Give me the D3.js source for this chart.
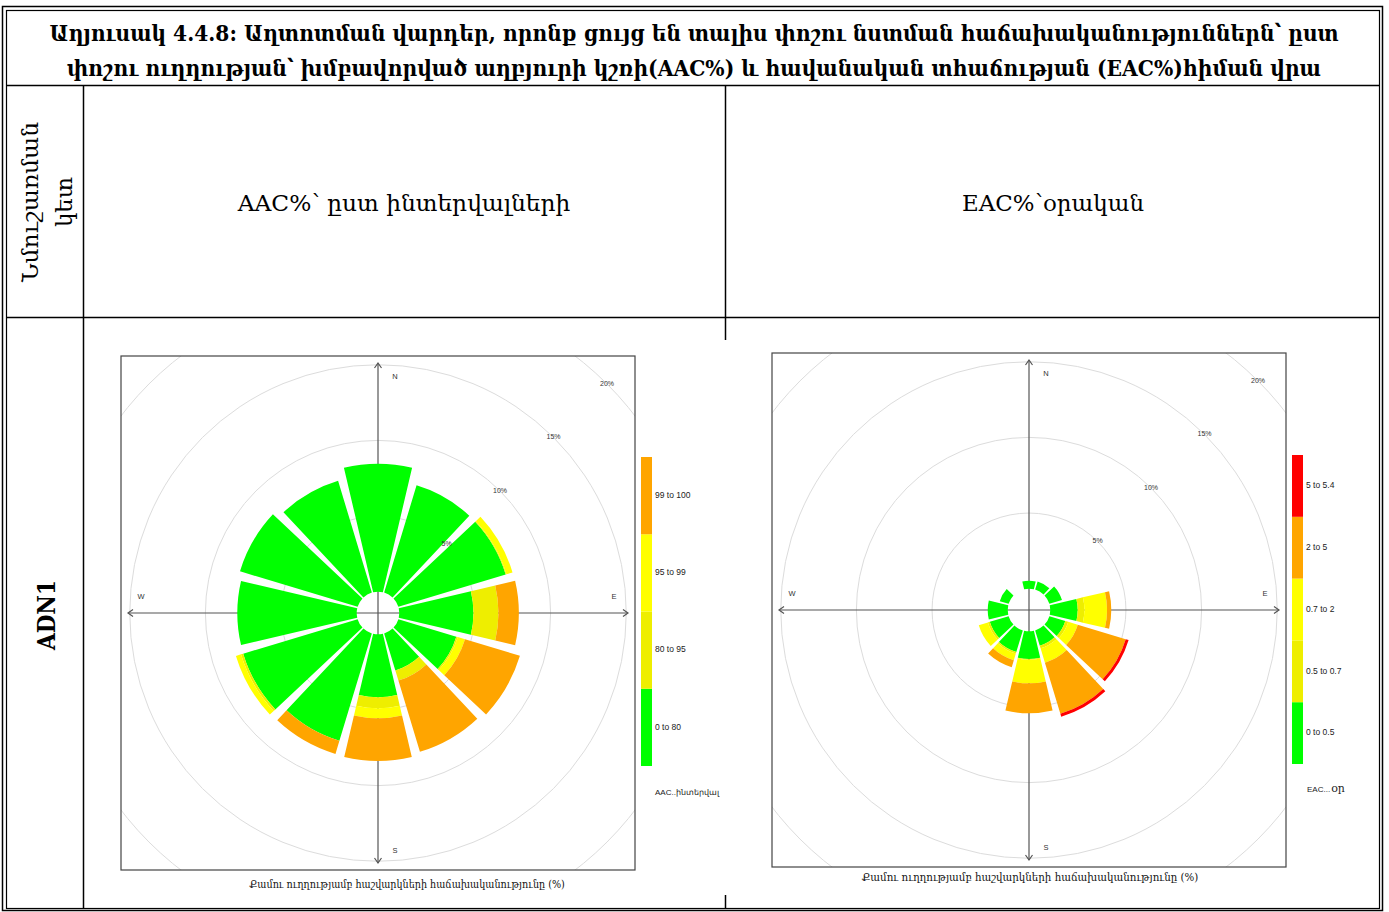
<!DOCTYPE html>
<html><head><meta charset="utf-8">
<script src="https://cdn.jsdelivr.net/npm/d3@7"></script>
<style>body{margin:0;background:#fff}svg{display:block}</style>
</head><body><svg id="c" width="1389" height="912"></svg>
<script>
// ---------- texts ----------
const titleLines = [
  "Աղյուսակ 4.4.8: Աղտոտման վարդեր, որոնք ցույց են տալիս փոշու նստման հաճախականություններն՝ ըստ",
  "փոշու ուղղության՝ խմբավորված աղբյուրի կշռի(AAC%)  և հավանական տհաճության (EAC%)հիման վրա"
];
const headerLabels = ["AAC%՝ ըստ ինտերվալների", "EAC%՝օրական"];
const stationHeader = ["Նմուշառման", "կետ"];
const stationName = "ADN1";
const captionText = "Քամու ուղղությամբ հաշվարկների հաճախականությունը (%)";
const compassLabels = ["N", "E", "S", "W"];
const ringTicks = [5, 10, 15, 20];

// ---------- data ----------
const directions = [0, 30, 60, 90, 120, 150, 180, 210, 240, 270, 300, 330];

const aacBins = ["0 to 80", "80 to 95", "95 to 99", "99 to 100"];
const aacGreen  = [8.46, 7.41, 7.41, 4.90, 4.00, 2.56, 4.16, 7.42, 7.90, 7.89, 8.12, 7.72];
const aacOlive  = [0, 0, 0.05, 1.65, 0.10, 0.70, 0.73, 0, 0.15, 0, 0, 0];
const aacYellow = [0, 0, 0.42, 0, 0.50, 0, 0.66, 0, 0.35, 0, 0, 0];
const aacOrange = [0, 0, 0, 1.35, 3.79, 4.92, 2.82, 0.90, 0, 0, 0, 0];
const aacLegendTitle = "AAC..ինտերվալ";

const eacBins = ["0 to 0.5", "0.5 to 0.7", "0.7 to 2", "2 to 5", "5 to 5.4"];
const eacGreen  = [0.53, 0.56, 0.87, 1.81, 1.10, 1.06, 1.83, 1.50, 1.30, 1.32, 0.61, 0];
const eacOlive  = [0, 0, 0, 0.44, 0.20, 0.18, 0.05, 0.10, 0.13, 0, 0, 0];
const eacYellow = [0, 0, 0, 1.50, 0.66, 0.99, 1.56, 0.46, 0.63, 0, 0, 0];
const eacOrange = [0, 0, 0, 0.28, 3.31, 3.53, 1.98, 0.48, 0, 0, 0, 0];
const eacRed    = [0, 0, 0, 0, 0.20, 0.20, 0, 0, 0, 0, 0, 0];
const eacLegendTitle = ["EAC...", "օր"];

const binColors = ["#00FF00", "#EEEE00", "#FFFF00", "#FFA500", "#FF0000"];

// ---------- drawing ----------
const svg = d3.select("#c");
const serif = "'DejaVu Serif', 'Liberation Serif', serif";
const sans = "'Liberation Sans', Arial, sans-serif";

// place a text centred at (x,y), horizontally scaled to the given width, optional rotation
function fitText(str, x, y, width, attrs, rot) {
  const g = svg.append("g");
  const t = g.append("text").attr("text-anchor", "middle").text(str);
  Object.entries(attrs).forEach(([k, v]) => t.attr(k, v));
  const nat = t.node().getComputedTextLength();
  const sx = width / nat;
  g.attr("transform", `translate(${x},${y})` + (rot ? ` rotate(${rot})` : "") + ` scale(${sx},1)`);
  return t;
}

// table frame
const frame = svg.append("g").attr("fill", "none").attr("stroke", "#000");
frame.append("rect").attr("x", 2.5).attr("y", 6.5).attr("width", 1380).attr("height", 904).attr("stroke-width", 1.5);
frame.append("rect").attr("x", 6.5).attr("y", 10.5).attr("width", 1373).attr("height", 898).attr("stroke-width", 1.2);
frame.append("line").attr("x1", 7).attr("x2", 1379).attr("y1", 85.5).attr("y2", 85.5).attr("stroke-width", 1.5);
frame.append("line").attr("x1", 7).attr("x2", 1379).attr("y1", 317.5).attr("y2", 317.5).attr("stroke-width", 1.5);
frame.append("line").attr("x1", 83.5).attr("x2", 83.5).attr("y1", 85).attr("y2", 908).attr("stroke-width", 1.5);
frame.append("line").attr("x1", 725.5).attr("x2", 725.5).attr("y1", 85).attr("y2", 340).attr("stroke-width", 1.5);
frame.append("line").attr("x1", 725.5).attr("x2", 725.5).attr("y1", 895).attr("y2", 908).attr("stroke-width", 1.5);

// title
const titleW = [1290, 1255];
titleLines.forEach((t, i) => {
  fitText(t, 694, 41 + i * 35, titleW[i],
    {"font-family": serif, "font-weight": "bold", "font-size": 22});
});

// header row
const headerPos = [{x: 404, w: 333}, {x: 1053, w: 182}];
headerLabels.forEach((t, i) => {
  fitText(t, headerPos[i].x, 211, headerPos[i].w, {"font-family": serif, "font-size": 22});
});
const stW = [160, 50];
stationHeader.forEach((t, i) => {
  fitText(t, 38 + i * 34, 202, stW[i], {"font-family": serif, "font-size": 22}, -90);
});
fitText(stationName, 55, 615, 70, {"font-family": serif, "font-weight": "bold", "font-size": 24}, -90);

// radial scale shared by both roses
const rScale = d3.scaleLinear().domain([0, 20]).range([21.3, 323.9]);
const halfSector = 13.2;

function drawRose(opt) {
  const clipId = "clip" + opt.id;
  svg.append("clipPath").attr("id", clipId)
    .append("rect").attr("x", opt.cx - 257).attr("y", opt.cy - 257).attr("width", 514).attr("height", 514);
  const ringG = svg.append("g").attr("clip-path", `url(#${clipId})`)
    .append("g").attr("transform", `translate(${opt.cx},${opt.cy})`);
  ringG.selectAll("circle").data(ringTicks).join("circle")
    .attr("r", d => rScale(d)).attr("fill", "none").attr("stroke", "#dcdcdc").attr("stroke-width", 1);

  // axes
  const ax = svg.append("g").attr("transform", `translate(${opt.cx},${opt.cy})`)
    .attr("stroke", "#555").attr("stroke-width", 1.2).attr("fill", "none");
  const L = 250, ah = 5, aw = 3.5;
  ax.append("line").attr("x1", 0).attr("x2", 0).attr("y1", -L).attr("y2", L);
  ax.append("line").attr("y1", 0).attr("y2", 0).attr("x1", -L).attr("x2", L);
  [[0, -L, 0, 1], [0, L, 0, -1], [-L, 0, 1, 0], [L, 0, -1, 0]].forEach(([x, y, dx, dy]) => {
    const px = dy !== 0 ? aw : 0, py = dx !== 0 ? aw : 0;
    ax.append("polyline").attr("points",
      `${x + dx * ah - px},${y + dy * ah - py} ${x},${y} ${x + dx * ah + px},${y + dy * ah + py}`);
  });

  // bars
  const arc = d3.arc();
  const layers = opt.layers;
  const bars = svg.append("g").attr("transform", `translate(${opt.cx},${opt.cy})`);
  directions.forEach((dir, i) => {
    let cum = 0;
    layers.forEach((layer, k) => {
      const v = layer[i];
      if (v <= 0) return;
      const a0 = (dir - halfSector) * Math.PI / 180, a1 = (dir + halfSector) * Math.PI / 180;
      bars.append("path")
        .attr("d", arc({innerRadius: rScale(cum), outerRadius: rScale(cum + v), startAngle: a0, endAngle: a1}))
        .attr("fill", binColors[k]);
      cum += v;
    });
  });

  // compass labels
  const cpos = {N: [17, -236], E: [236, -16], S: [17, 238], W: [-237, -16]};
  const lg = svg.append("g").attr("transform", `translate(${opt.cx},${opt.cy})`)
    .attr("font-family", sans).attr("font-size", 7.5).attr("fill", "#333")
    .attr("text-anchor", "middle").attr("dominant-baseline", "middle");
  compassLabels.forEach(c => lg.append("text").attr("x", cpos[c][0]).attr("y", cpos[c][1]).text(c));
  ringTicks.forEach(t => {
    const r = rScale(t) / Math.SQRT2;
    lg.append("text").attr("x", r).attr("y", -r).attr("font-size", 7).text(t + "%");
  });

  // panel box
  svg.append("rect").attr("x", opt.cx - 257).attr("y", opt.cy - 257).attr("width", 514).attr("height", 514)
    .attr("fill", "none").attr("stroke", "#444").attr("stroke-width", 1.2);

  // legend
  const n = opt.bins.length;
  const band = d3.scaleBand().domain(d3.range(n).reverse()).range([opt.legTop, opt.legBottom]).padding(0);
  const leg = svg.append("g");
  leg.selectAll("rect").data(d3.range(n)).join("rect")
    .attr("x", opt.legX).attr("y", d => band(d)).attr("width", 11).attr("height", band.bandwidth())
    .attr("fill", d => binColors[d]);
  leg.selectAll("text").data(d3.range(n)).join("text")
    .attr("x", opt.legX + 14).attr("y", d => band(d) + band.bandwidth() / 2)
    .attr("dominant-baseline", "middle").attr("font-family", sans).attr("font-size", 8.5).attr("fill", "#222")
    .text(d => opt.bins[d]);

  // caption
  fitText(captionText, opt.capX, opt.capY, opt.capW,
    {"font-family": serif, "font-size": opt.capSize, "fill": "#111"});
}

drawRose({
  id: "L", cx: 378, cy: 613,
  layers: [aacGreen, aacOlive, aacYellow, aacOrange],
  bins: aacBins, legX: 641, legTop: 457, legBottom: 766,
  capX: 407, capY: 888, capW: 316, capSize: 10.5
});
drawRose({
  id: "R", cx: 1029, cy: 610,
  layers: [eacGreen, eacOlive, eacYellow, eacOrange, eacRed],
  bins: eacBins, legX: 1292, legTop: 455, legBottom: 764,
  capX: 1030, capY: 881, capW: 337, capSize: 11.5
});

// legend titles
svg.append("text").attr("x", 655).attr("y", 795).attr("font-family", sans).attr("font-size", 8)
  .attr("fill", "#222").text(aacLegendTitle);
const et = svg.append("text").attr("x", 1307).attr("y", 792).attr("fill", "#222");
et.append("tspan").attr("font-family", sans).attr("font-size", 8).text(eacLegendTitle[0]);
et.append("tspan").attr("font-family", serif).attr("font-size", 11).attr("dx", 1).text(eacLegendTitle[1]);
</script></body></html>
